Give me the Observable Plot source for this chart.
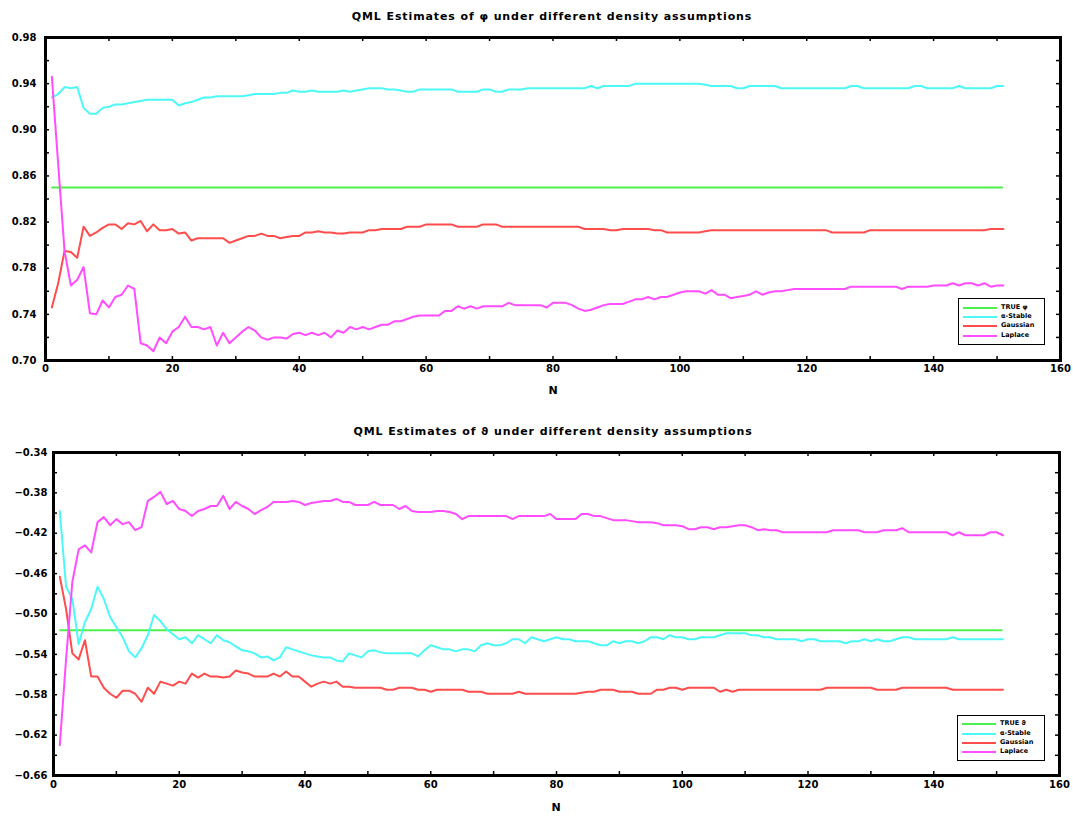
<!DOCTYPE html>
<html><head><meta charset="utf-8">
<script src="https://cdn.jsdelivr.net/npm/d3@7"></script>
<script src="https://cdn.jsdelivr.net/npm/@observablehq/plot@0.6"></script>
<style>
body{margin:0;background:#fff;}
#page{position:relative;width:1073px;height:816px;overflow:hidden;font-family:"DejaVu Sans",sans-serif;color:#000;}
#page svg{position:absolute;left:0;}
.title{position:absolute;transform:translate(-50%,-50%);white-space:nowrap;font-weight:bold;font-size:11px;letter-spacing:0.9px;}
.xlab{position:absolute;transform:translate(-50%,-50%);font-weight:bold;font-size:11px;}
.legend{position:absolute;border:1.5px solid #000;background:#fff;box-sizing:border-box;}
.legend .row{position:absolute;left:4px;height:9px;}
.legend .sw{position:absolute;left:0;top:4px;width:34px;height:2px;}
.legend .lt{position:absolute;left:38px;top:0;font-size:6.5px;font-weight:bold;line-height:9px;white-space:nowrap;}
</style></head>
<body><div id="page"></div>
<script>
// ---------- data ----------
const N = d3.range(1, 152);
const colors = ["#4df04d", "#4df8f8", "#ff4d4d", "#ff4dff"];

const phiTitle = "QML Estimates of \u03c6 under different density assumptions";
const thetaTitle = "QML Estimates of \u03d1 under different density assumptions";
const phiLegend = ["TRUE \u03c6", "\u03b1-Stable", "Gaussian", "Laplace"];
const thetaLegend = ["TRUE \u03d1", "\u03b1-Stable", "Gaussian", "Laplace"];

const phiTrue = 0.85;
const phiStable = [
.928,.931,.937,.936,.937,.919,.914,.914,.919,.920,
.922,.922,.923,.924,.925,.926,.926,.926,.926,.926,
.921,.923,.924,.926,.928,.928,.929,.929,.929,.929,
.929,.930,.931,.931,.931,.931,.932,.932,.934,.933,
.933,.934,.933,.933,.933,.933,.934,.933,.934,.935,
.936,.936,.936,.935,.935,.934,.933,.933,.935,.935,
.935,.935,.935,.935,.933,.933,.933,.933,.935,.935,
.933,.933,.935,.935,.935,.936,.936,.936,.936,.936,
.936,.936,.936,.936,.936,.938,.936,.938,.938,.938,
.938,.938,.940,.940,.940,.940,.940,.940,.940,.940,
.940,.940,.940,.939,.938,.938,.938,.938,.936,.936,
.938,.938,.938,.938,.938,.936,.936,.936,.936,.936,
.936,.936,.936,.936,.936,.936,.938,.938,.936,.936,
.936,.936,.936,.936,.936,.936,.938,.938,.936,.936,
.936,.936,.936,.938,.936,.936,.936,.936,.936,.938,.938];
const phiGauss = [
.746,.767,.795,.794,.789,.816,.808,.811,.815,.818,
.818,.814,.819,.818,.821,.812,.818,.813,.813,.814,
.810,.811,.804,.806,.806,.806,.806,.806,.802,.804,
.806,.808,.808,.810,.808,.808,.806,.807,.808,.808,
.811,.811,.812,.811,.811,.810,.810,.811,.811,.811,
.813,.813,.814,.814,.814,.814,.816,.816,.816,.818,
.818,.818,.818,.818,.816,.816,.816,.816,.818,.818,
.818,.816,.816,.816,.816,.816,.816,.816,.816,.816,
.816,.816,.816,.816,.814,.814,.814,.814,.813,.813,
.814,.814,.814,.814,.814,.813,.813,.811,.811,.811,
.811,.811,.811,.812,.813,.813,.813,.813,.813,.813,
.813,.813,.813,.813,.813,.813,.813,.813,.813,.813,
.813,.813,.813,.811,.811,.811,.811,.811,.811,.813,
.813,.813,.813,.813,.813,.813,.813,.813,.813,.813,
.813,.813,.813,.813,.813,.813,.813,.813,.814,.814,.814];
const phiLaplace = [
.946,.870,.795,.765,.770,.781,.741,.740,.752,.746,
.755,.757,.765,.762,.715,.713,.708,.720,.715,.725,
.729,.738,.729,.729,.727,.729,.713,.724,.715,.720,
.725,.729,.726,.720,.718,.720,.720,.719,.723,.724,
.722,.724,.722,.724,.720,.726,.724,.729,.727,.729,
.727,.729,.731,.731,.734,.734,.736,.738,.739,.739,
.739,.739,.743,.743,.747,.745,.747,.745,.747,.747,
.747,.747,.750,.748,.748,.748,.748,.748,.746,.750,
.750,.750,.748,.745,.743,.744,.746,.748,.749,.749,
.749,.751,.753,.753,.755,.753,.755,.755,.757,.759,
.760,.760,.760,.758,.761,.757,.757,.754,.755,.756,
.757,.760,.757,.759,.760,.760,.761,.762,.762,.762,
.762,.762,.762,.762,.762,.762,.764,.764,.764,.764,
.764,.764,.764,.764,.762,.764,.764,.764,.764,.765,
.765,.765,.767,.765,.767,.767,.765,.767,.764,.765,.765];

const thetaTrue = -0.516;
const thetaStable = [
-.398,-.473,-.485,-.530,-.508,-.495,-.473,-.485,-.503,-.513,
-.523,-.537,-.543,-.534,-.521,-.501,-.507,-.515,-.520,-.525,
-.523,-.529,-.521,-.525,-.529,-.521,-.526,-.528,-.532,-.536,
-.537,-.539,-.543,-.542,-.546,-.543,-.533,-.535,-.537,-.539,
-.541,-.542,-.543,-.543,-.546,-.547,-.539,-.541,-.543,-.537,
-.536,-.538,-.539,-.539,-.539,-.539,-.539,-.542,-.536,-.531,
-.533,-.535,-.535,-.537,-.535,-.535,-.537,-.531,-.529,-.531,
-.531,-.529,-.525,-.525,-.529,-.523,-.525,-.527,-.525,-.523,
-.525,-.525,-.527,-.527,-.527,-.529,-.531,-.531,-.527,-.529,
-.527,-.527,-.529,-.527,-.523,-.523,-.525,-.521,-.523,-.523,
-.525,-.525,-.523,-.523,-.523,-.521,-.519,-.519,-.519,-.519,
-.521,-.521,-.523,-.523,-.525,-.525,-.525,-.525,-.527,-.525,
-.525,-.527,-.527,-.527,-.527,-.529,-.527,-.527,-.525,-.527,
-.525,-.527,-.527,-.525,-.523,-.523,-.525,-.525,-.525,-.525,
-.525,-.525,-.523,-.525,-.525,-.525,-.525,-.525,-.525,-.525,-.525];
const thetaGauss = [
-.463,-.495,-.539,-.545,-.526,-.562,-.562,-.573,-.579,-.583,
-.576,-.576,-.579,-.587,-.573,-.579,-.567,-.569,-.571,-.567,
-.569,-.559,-.563,-.559,-.562,-.562,-.563,-.562,-.556,-.558,
-.559,-.562,-.562,-.562,-.559,-.562,-.557,-.562,-.562,-.567,
-.572,-.569,-.567,-.569,-.567,-.572,-.572,-.573,-.573,-.573,
-.573,-.573,-.575,-.575,-.573,-.573,-.573,-.575,-.575,-.577,
-.575,-.575,-.575,-.575,-.575,-.577,-.577,-.577,-.579,-.579,
-.579,-.579,-.579,-.577,-.579,-.579,-.579,-.579,-.579,-.579,
-.579,-.579,-.579,-.578,-.577,-.577,-.575,-.575,-.575,-.577,
-.577,-.577,-.579,-.579,-.579,-.575,-.575,-.573,-.573,-.575,
-.573,-.573,-.573,-.573,-.573,-.577,-.575,-.577,-.575,-.575,
-.575,-.575,-.575,-.575,-.575,-.575,-.575,-.575,-.575,-.575,
-.575,-.575,-.573,-.573,-.573,-.573,-.573,-.573,-.573,-.573,
-.575,-.575,-.575,-.575,-.573,-.573,-.573,-.573,-.573,-.573,
-.573,-.573,-.575,-.575,-.575,-.575,-.575,-.575,-.575,-.575,-.575];
const thetaLaplace = [
-.630,-.545,-.468,-.436,-.432,-.439,-.409,-.404,-.412,-.406,
-.411,-.409,-.417,-.414,-.388,-.384,-.379,-.391,-.388,-.396,
-.398,-.403,-.398,-.396,-.393,-.393,-.383,-.396,-.389,-.393,
-.396,-.401,-.397,-.394,-.389,-.389,-.389,-.388,-.389,-.392,
-.390,-.389,-.388,-.388,-.386,-.389,-.389,-.392,-.392,-.392,
-.389,-.392,-.392,-.392,-.396,-.393,-.398,-.399,-.399,-.399,
-.398,-.398,-.399,-.401,-.406,-.403,-.403,-.403,-.403,-.403,
-.403,-.403,-.406,-.403,-.403,-.403,-.403,-.403,-.401,-.406,
-.406,-.406,-.406,-.401,-.401,-.403,-.403,-.405,-.407,-.407,
-.407,-.408,-.409,-.409,-.409,-.410,-.412,-.412,-.412,-.413,
-.416,-.416,-.414,-.414,-.416,-.414,-.414,-.413,-.412,-.412,
-.414,-.417,-.416,-.417,-.417,-.419,-.419,-.419,-.419,-.419,
-.419,-.419,-.419,-.417,-.417,-.417,-.417,-.417,-.419,-.419,
-.419,-.417,-.417,-.417,-.415,-.419,-.419,-.419,-.419,-.419,
-.419,-.419,-.422,-.419,-.422,-.422,-.422,-.422,-.419,-.419,-.422];

const xLabels = [0, 20, 40, 60, 80, 100, 120, 140, 160];
const xMinor = [10, 20, 30, 40, 50, 60, 70, 80, 90, 100, 110, 120, 130, 140, 150];
const phiYLabels = [0.70, 0.74, 0.78, 0.82, 0.86, 0.90, 0.94, 0.98];
const phiYMinor = [0.72, 0.74, 0.76, 0.78, 0.80, 0.82, 0.84, 0.86, 0.88, 0.90, 0.92, 0.94, 0.96];
const thetaYLabels = [-0.66, -0.62, -0.58, -0.54, -0.50, -0.46, -0.42, -0.38, -0.34];
const thetaYMinor = [-0.64, -0.62, -0.60, -0.58, -0.56, -0.54, -0.52, -0.50, -0.48, -0.46, -0.44, -0.42, -0.40, -0.38, -0.36];

// ---------- drawing ----------
const page = document.getElementById("page");

function makePlot(o) {
  const W = 1073;
  const innerW = W - o.marginLeft - o.marginRight;
  const innerH = o.height - o.marginTop - o.marginBottom;
  const tk = 4;
  const series = [o.stable, o.gauss, o.laplace];
  const svg = Plot.plot({
    width: W, height: o.height,
    marginTop: o.marginTop, marginBottom: o.marginBottom,
    marginLeft: o.marginLeft, marginRight: o.marginRight,
    style: {fontFamily: "DejaVu Sans", fontSize: "10px", fontWeight: "bold", color: "#000", background: "transparent", overflow: "visible"},
    x: {domain: [0, 160]},
    y: {domain: o.yDomain},
    marks: [
      Plot.axisX(xLabels, {tickSize: 0, tickPadding: o.xPad, label: null, tickFormat: d => String(d)}),
      Plot.axisY(o.yLabels, {tickSize: 0, tickPadding: o.yPad, label: null, tickFormat: d3.format(".2f")}),
      Plot.tickX(xMinor, {x: d => d, insetBottom: innerH - tk, stroke: "#000", strokeWidth: 1.5}),
      Plot.tickX(xMinor, {x: d => d, insetTop: innerH - tk, stroke: "#000", strokeWidth: 1.5}),
      Plot.tickY(o.yMinor, {y: d => d, insetRight: innerW - tk, stroke: "#000", strokeWidth: 1.5}),
      Plot.tickY(o.yMinor, {y: d => d, insetLeft: innerW - tk, stroke: "#000", strokeWidth: 1.5}),
      Plot.ruleY([o.trueVal], {x1: N[0], x2: N[N.length - 1], stroke: colors[0], strokeWidth: 2}),
      ...series.map((s, k) => Plot.line(s, {x: (d, i) => N[i], y: d => d, stroke: colors[k + 1], strokeWidth: 2})),
      Plot.frame({stroke: "#000", strokeWidth: 3})
    ]
  });
  svg.style.top = o.top + "px";
  page.appendChild(svg);
}

makePlot({top: 0, height: 400, marginTop: 37, marginBottom: 40, marginLeft: 45, marginRight: 13,
  yDomain: [0.70, 0.98], yLabels: phiYLabels, yMinor: phiYMinor, xPad: 4, yPad: 9,
  trueVal: phiTrue, stable: phiStable, gauss: phiGauss, laplace: phiLaplace});
makePlot({top: 400, height: 416, marginTop: 52, marginBottom: 41, marginLeft: 53, marginRight: 14,
  yDomain: [-0.66, -0.34], yLabels: thetaYLabels, yMinor: thetaYMinor, xPad: 5, yPad: 6,
  trueVal: thetaTrue, stable: thetaStable, gauss: thetaGauss, laplace: thetaLaplace});

function addText(cls, txt, x, y) {
  const d = document.createElement("div");
  d.className = cls; d.textContent = txt;
  d.style.left = x + "px"; d.style.top = y + "px";
  page.appendChild(d);
}
addText("title", phiTitle, 552, 16);
addText("title", thetaTitle, 553, 431);
addText("xlab", "N", 553, 390);
addText("xlab", "N", 556, 807);

function addLegend(labels, left, top, w, h, rowTops) {
  const box = document.createElement("div");
  box.className = "legend";
  Object.assign(box.style, {left: left + "px", top: top + "px", width: w + "px", height: h + "px"});
  labels.forEach((lab, i) => {
    const r = document.createElement("div");
    r.className = "row"; r.style.top = rowTops[i] + "px";
    const sw = document.createElement("div");
    sw.className = "sw"; sw.style.background = colors[i];
    const t = document.createElement("div");
    t.className = "lt"; t.textContent = lab;
    r.appendChild(sw); r.appendChild(t); box.appendChild(r);
  });
  page.appendChild(box);
}
addLegend(phiLegend, 958, 298, 87, 47, [4, 13, 22, 32]);
addLegend(thetaLegend, 957, 715, 88, 46, [3, 13, 22, 31]);
</script>
</body></html>
